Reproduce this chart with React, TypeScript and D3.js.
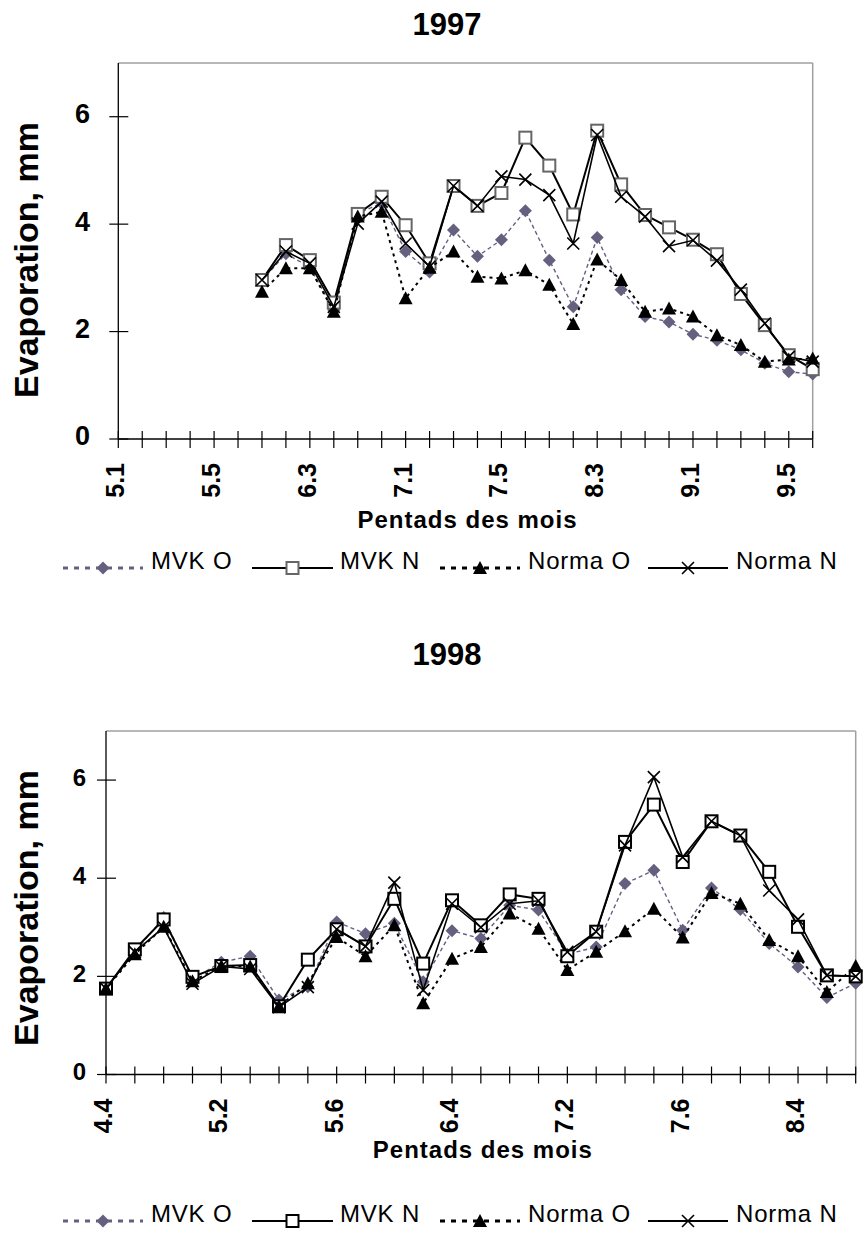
import React from "react";
import * as d3 from "d3";

// ---------- DATA ----------
const cats97 = ["5.1","5.2","5.3","5.4","5.5","5.6","6.1","6.2","6.3","6.4","6.5","6.6","7.1","7.2","7.3","7.4","7.5","7.6","8.1","8.2","8.3","8.4","8.5","8.6","9.1","9.2","9.3","9.4","9.5","9.6"];
const tickLabels97 = ["5.1","5.5","6.3","7.1","7.5","8.3","9.1","9.5"];
const mvkO97 = [null,null,null,null,null,null,2.95,3.45,3.2,2.4,4.2,4.39,3.49,3.11,3.89,3.40,3.71,4.25,3.33,2.46,3.75,2.78,2.28,2.18,1.95,1.84,1.66,1.41,1.25,1.21];
const mvkN97 = [null,null,null,null,null,null,2.96,3.61,3.33,2.54,4.19,4.51,3.98,3.27,4.71,4.34,4.58,5.61,5.09,4.18,5.74,4.74,4.17,3.94,3.71,3.44,2.70,2.12,1.56,1.30];
const normaO97 = [null,null,null,null,null,null,2.74,3.18,3.18,2.37,4.14,4.23,2.62,3.19,3.49,3.02,2.99,3.14,2.87,2.14,3.34,2.96,2.37,2.43,2.28,1.93,1.75,1.44,1.48,1.50];
const normaN97 = [null,null,null,null,null,null,2.96,3.49,3.27,2.46,4.01,4.42,3.64,3.21,4.71,4.34,4.89,4.83,4.54,3.64,5.66,4.51,4.14,3.59,3.70,3.32,2.78,2.15,1.53,1.44];

const cats98 = ["4.4","4.5","4.6","5.1","5.2","5.3","5.4","5.5","5.6","6.1","6.2","6.3","6.4","6.5","6.6","7.1","7.2","7.3","7.4","7.5","7.6","8.1","8.2","8.3","8.4","8.5","8.6"];
const tickLabels98 = ["4.4","5.2","5.6","6.4","7.2","7.6","8.4"];
const mvkO98 = [1.75,2.5,3.2,1.95,2.29,2.41,1.52,1.79,3.11,2.87,3.08,1.89,2.93,2.77,3.45,3.35,2.45,2.60,3.89,4.16,2.94,3.80,3.36,2.67,2.19,1.57,1.86];
const mvkN98 = [1.75,2.55,3.16,1.99,2.21,2.23,1.39,2.34,2.96,2.61,3.58,2.26,3.55,3.04,3.67,3.58,2.41,2.91,4.74,5.50,4.33,5.16,4.87,4.13,3.01,2.02,2.00];
const normaO98 = [1.75,2.45,3.01,1.9,2.21,2.2,1.39,1.86,2.80,2.41,3.04,1.45,2.36,2.60,3.28,2.97,2.13,2.50,2.92,3.38,2.79,3.70,3.48,2.74,2.41,1.68,2.21];
const normaN98 = [1.75,2.5,3.0,1.85,2.2,2.15,1.37,1.78,2.96,2.61,3.91,1.72,3.48,3.0,3.48,3.54,2.50,2.91,4.67,6.06,4.43,5.16,4.87,3.75,3.16,2.02,2.0];

const seriesNames = ["MVK O", "MVK N", "Norma O", "Norma N"];
const yTicks = [0, 2, 4, 6];
const yMax = 7;

// ---------- STYLE ----------
const FONT = "'Liberation Sans', Arial, Helvetica, sans-serif";
const PURPLE = "#666080";
const GRAY = "#a0a0a0";

type MarkerType = "diamond" | "square" | "triangle" | "x";
const styles: { marker: MarkerType; stroke: string; width: number; dash?: string; legendWidth: number; legendDash?: string }[] = [
  { marker: "diamond", stroke: PURPLE, width: 1.4, dash: "4 3", legendWidth: 3, legendDash: "5 6" },
  { marker: "square", stroke: "#000", width: 2, legendWidth: 2 },
  { marker: "triangle", stroke: "#000", width: 2, dash: "3 4", legendWidth: 3, legendDash: "5 6" },
  { marker: "x", stroke: "#000", width: 1.6, legendWidth: 2 },
];

function Marker({ type, cx, cy, sq }: { type: MarkerType; cx: number; cy: number; sq: string }) {
  if (type === "diamond")
    return <path d={`M${cx},${cy - 6.5}L${cx + 6.5},${cy}L${cx},${cy + 6.5}L${cx - 6.5},${cy}Z`} fill={PURPLE} />;
  if (type === "square")
    return <rect x={cx - 6} y={cy - 6} width={12} height={12} fill="#fff" stroke={sq} strokeWidth={2} />;
  if (type === "triangle")
    return <path d={`M${cx},${cy - 7}L${cx + 7},${cy + 6}L${cx - 7},${cy + 6}Z`} fill="#000" />;
  return (
    <path d={`M${cx - 6},${cy - 6}L${cx + 6},${cy + 6}M${cx + 6},${cy - 6}L${cx - 6},${cy + 6}`} stroke="#000" strokeWidth={1.6} fill="none" />
  );
}

type Layout = {
  L: number; R: number; T: number; B: number;
  titleY: number; xTitleY: number; yTitleX: number; yTitleCy: number;
  yTickRight: number; yTickFont: number; legendY: number; sq: string;
};

function Panel({ title, cats, data, tickLabels, lay }: { title: string; cats: string[]; data: (number | null)[][]; tickLabels: string[]; lay: Layout }) {
  const x = d3.scalePoint<string>().domain(cats).range([lay.L, lay.R]).padding(0);
  const y = d3.scaleLinear().domain([0, yMax]).range([lay.B, lay.T]);
  const cx = (lay.L + lay.R) / 2;

  const legendLines = [[63, 143], [252, 333], [440, 520], [648, 728]];
  const legendText = [151, 340, 528, 736];

  return (
    <g>
      <text x={447} y={lay.titleY} textAnchor="middle" fontFamily={FONT} fontWeight="bold" fontSize={31}>{title}</text>
      {/* frame */}
      <line x1={lay.L} x2={lay.R} y1={lay.T} y2={lay.T} stroke={GRAY} strokeWidth={1.5} />
      <line x1={lay.R} x2={lay.R} y1={lay.T} y2={lay.B} stroke={GRAY} strokeWidth={1.5} />
      <line x1={lay.L} x2={lay.L} y1={lay.T} y2={lay.B} stroke="#000" strokeWidth={1.3} />
      <line x1={lay.L} x2={lay.R} y1={lay.B} y2={lay.B} stroke="#000" strokeWidth={1.3} />
      {/* y ticks */}
      {yTicks.map((v) => (
        <g key={"y" + v}>
          <line x1={lay.L - 9} x2={lay.L + 10} y1={y(v)} y2={y(v)} stroke="#000" strokeWidth={1.2} />
          <text x={lay.yTickRight} y={y(v) + lay.yTickFont * 0.24} textAnchor="end" fontFamily={FONT} fontWeight="bold" fontSize={lay.yTickFont}>{v}</text>
        </g>
      ))}
      {/* x ticks */}
      {cats.map((c) => (
        <line key={"x" + c} x1={x(c)!} x2={x(c)!} y1={lay.B - 8} y2={lay.B + 9} stroke="#000" strokeWidth={1.2} />
      ))}
      {tickLabels.map((c) => (
        <text key={"xl" + c} transform={`translate(${x(c)! + 6},${lay.B + 24}) rotate(-90)`} textAnchor="end" fontFamily={FONT} fontWeight="bold" fontSize={25}>{c}</text>
      ))}
      {/* axis titles */}
      <text x={cx + 2} y={lay.xTitleY} textAnchor="middle" fontFamily={FONT} fontWeight="bold" fontSize={24} letterSpacing={1}>Pentads des mois</text>
      <text transform={`translate(${lay.yTitleX},${lay.yTitleCy}) rotate(-90)`} textAnchor="middle" fontFamily={FONT} fontWeight="bold" fontSize={34}>Evaporation, mm</text>
      {/* series */}
      {data.map((vals, si) => {
        const st = styles[si];
        const pts = cats.map((c, i) => [c, vals[i]] as [string, number | null]);
        const line = d3.line<[string, number | null]>()
          .defined((d) => d[1] != null)
          .x((d) => x(d[0])!)
          .y((d) => y(d[1] as number));
        return (
          <g key={"s" + si}>
            <path d={line(pts) || ""} fill="none" stroke={st.stroke} strokeWidth={st.width} strokeDasharray={st.dash} />
            {pts.filter((d) => d[1] != null).map((d) => (
              <Marker key={d[0]} type={st.marker} cx={x(d[0])!} cy={y(d[1] as number)} sq={lay.sq} />
            ))}
          </g>
        );
      })}
      {/* legend */}
      {seriesNames.map((name, si) => {
        const st = styles[si];
        const [a, b] = legendLines[si];
        const ly = lay.legendY - 1;
        return (
          <g key={"lg" + si}>
            <line x1={a} x2={b} y1={ly} y2={ly} stroke={st.stroke} strokeWidth={st.legendWidth} strokeDasharray={st.legendDash} />
            <Marker type={st.marker} cx={(a + b) / 2} cy={ly} sq={lay.sq} />
            <text x={legendText[si]} y={lay.legendY} fontFamily={FONT} fontSize={24} letterSpacing={0.8}>{name}</text>
          </g>
        );
      })}
    </g>
  );
}

const layout97: Layout = { L: 118.3, R: 812.7, T: 63, B: 439, titleY: 35, xTitleY: 528, yTitleX: 37.5, yTitleCy: 260, yTickRight: 90, yTickFont: 27, legendY: 569, sq: "#666" };
const layout98: Layout = { L: 106, R: 855.7, T: 731, B: 1074.5, titleY: 665, xTitleY: 1158, yTitleX: 37.5, yTitleCy: 908, yTickRight: 86, yTickFont: 24, legendY: 1222, sq: "#000" };

export default function App() {
  return (
    <svg width={864} height={1240} style={{ position: "absolute", left: 0, top: 0, background: "#fff" }}>
      <rect width={864} height={1240} fill="#fff" />
      <Panel title="1997" cats={cats97} data={[mvkO97, mvkN97, normaO97, normaN97]} tickLabels={tickLabels97} lay={layout97} />
      <Panel title="1998" cats={cats98} data={[mvkO98, mvkN98, normaO98, normaN98]} tickLabels={tickLabels98} lay={layout98} />
    </svg>
  );
}
